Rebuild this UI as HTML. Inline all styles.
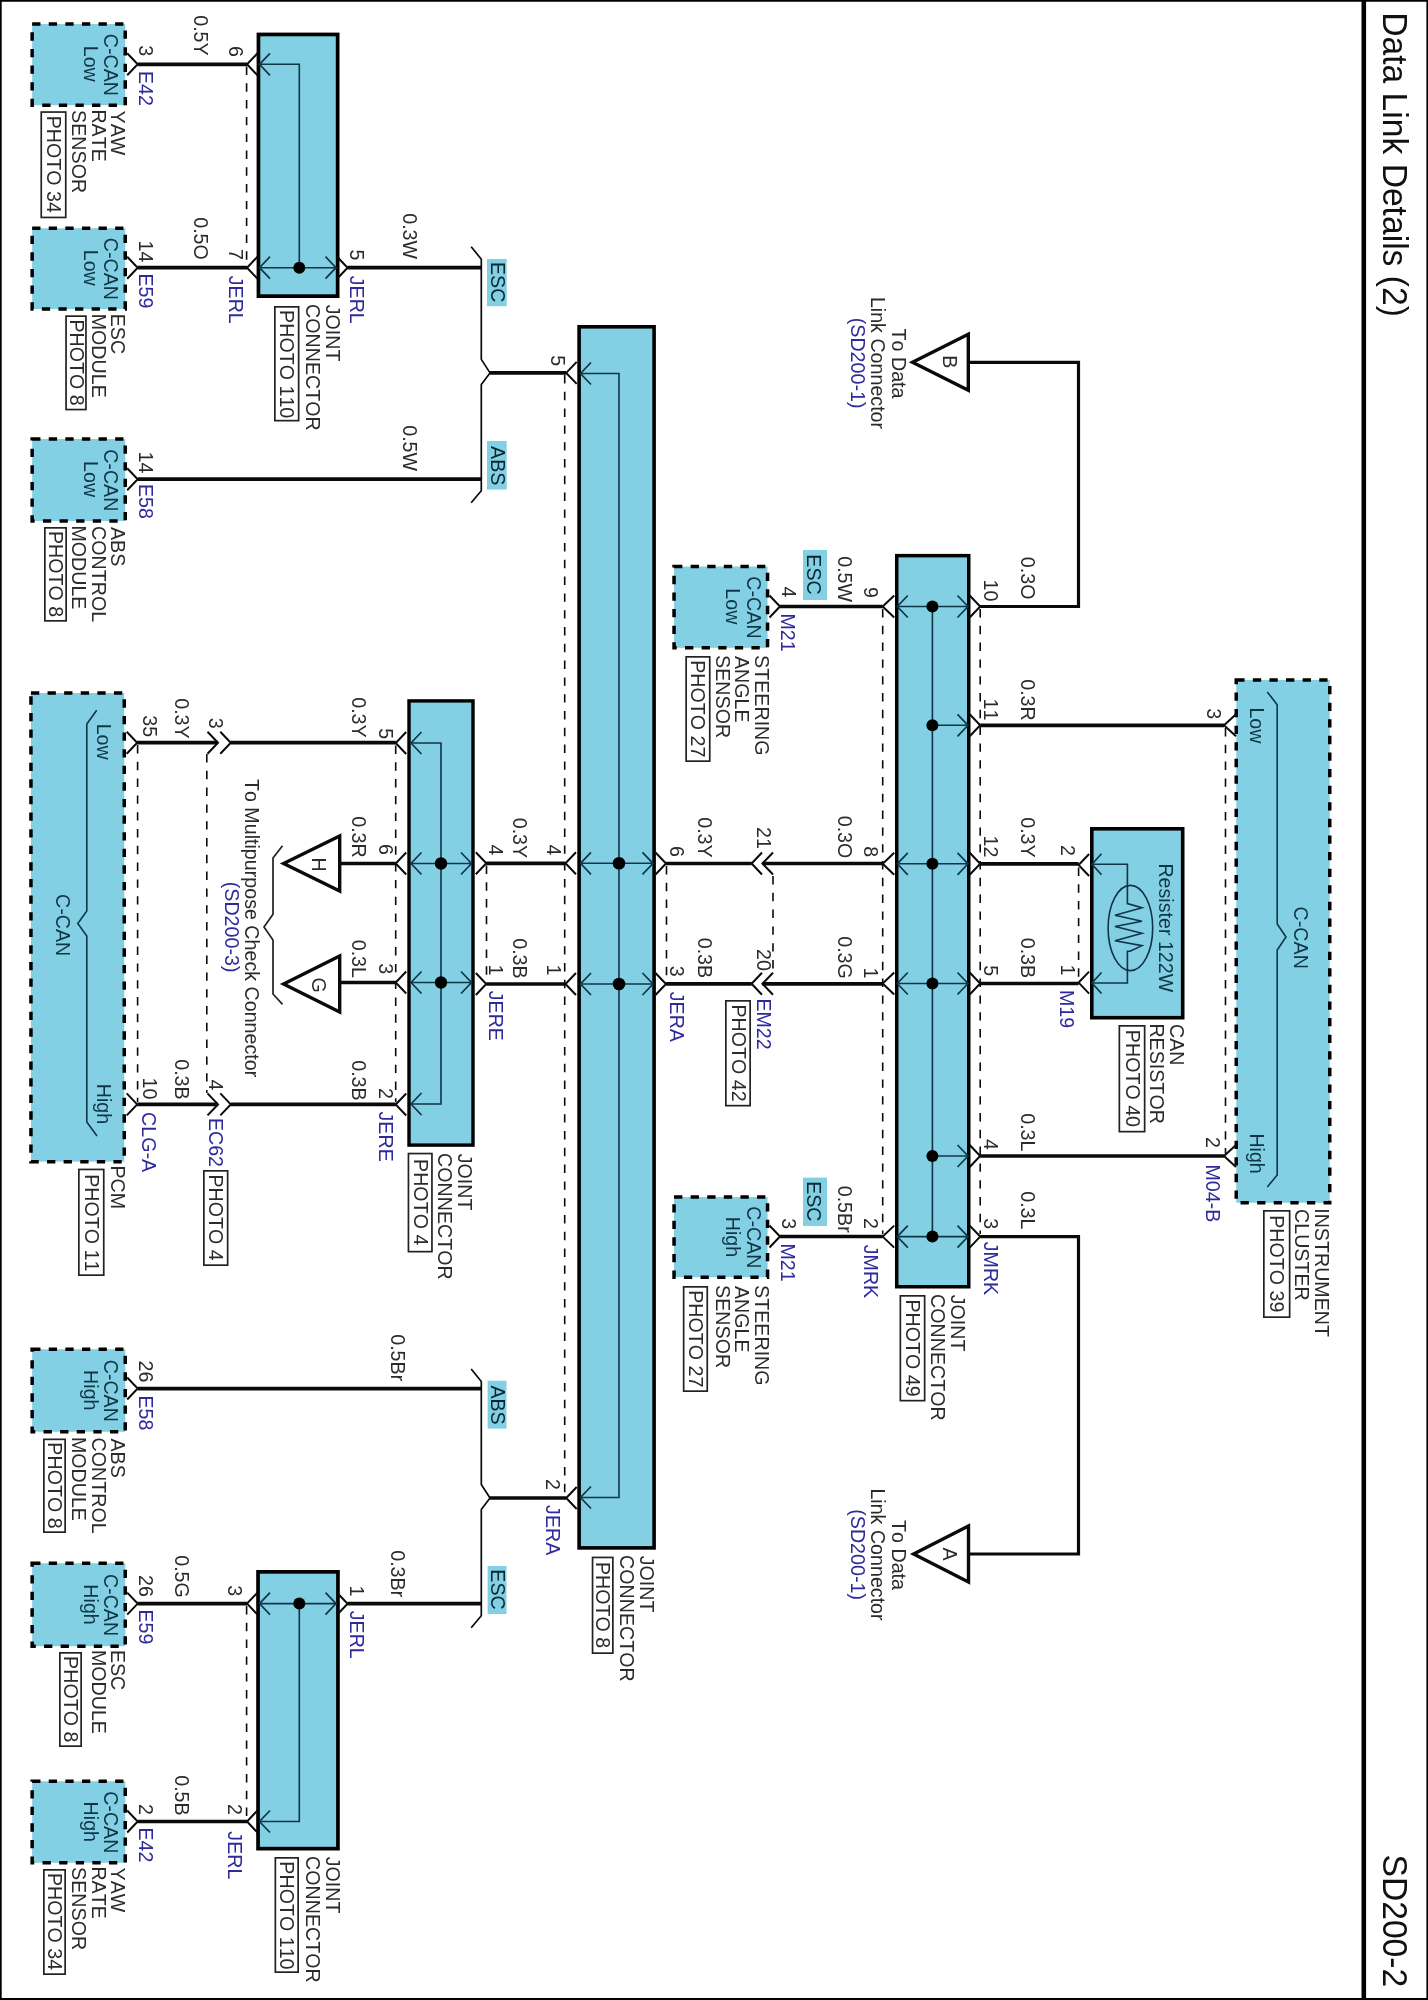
<!DOCTYPE html>
<html><head><meta charset="utf-8"><style>
html,body{margin:0;padding:0;background:#fff;}
svg{display:block;}
text{font-family:"Liberation Sans",sans-serif;font-kerning:none;}
svg{will-change:transform;}
</style></head><body>
<svg width="1428" height="2000" viewBox="0 0 1428 2000" stroke-linecap="butt">
<rect x="0" y="0" width="1428" height="2000" fill="#fff"/>
<line x1="0.00" y1="0.80" x2="1428.00" y2="0.80" stroke="#000" stroke-width="1.80"/>
<line x1="0.80" y1="0.00" x2="0.80" y2="2000.00" stroke="#000" stroke-width="1.80"/>
<line x1="0.00" y1="1999.00" x2="1428.00" y2="1999.00" stroke="#000" stroke-width="2.20"/>
<line x1="1427.20" y1="0.00" x2="1427.20" y2="2000.00" stroke="#000" stroke-width="1.60"/>
<line x1="1363.80" y1="0.00" x2="1363.80" y2="2000.00" stroke="#000" stroke-width="4.60"/>
<text transform="translate(1383.00 12.22) rotate(90) scale(0.975 1)" fill="#111" font-size="34.50">Data Link Details (2)</text>
<text transform="translate(1383.00 1854.49) rotate(90) scale(0.975 1)" fill="#111" font-size="34.50">SD200-2</text>
<rect x="32.15" y="24.05" width="93.10" height="81.20" fill="#83cfe3" stroke="#000" stroke-width="3.50" stroke-dasharray="8.3 8.3"/>
<text transform="translate(104.00 33.81) rotate(90) scale(0.937 1)" fill="#0f3646" font-size="21.00">C-CAN</text>
<text transform="translate(84.00 45.76) rotate(90) scale(0.937 1)" fill="#0f3646" font-size="21.00">Low</text>
<path d="M127.20 53.30L137.70 64.30L127.20 75.30" stroke="#0a0a0a" stroke-width="2.00" fill="none" />
<text transform="translate(111.30 110.56) rotate(90) scale(0.937 1)" fill="#2b2b2b" font-size="21.00">YAW</text>
<text transform="translate(91.70 109.38) rotate(90) scale(0.937 1)" fill="#2b2b2b" font-size="21.00">RATE</text>
<text transform="translate(72.10 110.11) rotate(90) scale(0.937 1)" fill="#2b2b2b" font-size="21.00">SENSOR</text>
<rect x="41.25" y="112.05" width="24.50" height="105.40" fill="none" stroke="#222" stroke-width="1.7"/>
<text transform="translate(47.00 115.73) rotate(90) scale(0.937 1)" fill="#2b2b2b" font-size="21.00">PHOTO 34</text>
<text transform="translate(139.00 45.26) rotate(90) scale(0.937 1)" fill="#2b2b2b" font-size="21.00">3</text>
<text transform="translate(139.00 70.88) rotate(90) scale(0.937 1)" fill="#2e2a9c" font-size="21.00">E42</text>
<line x1="137.70" y1="64.30" x2="247.00" y2="64.30" stroke="#0a0a0a" stroke-width="3.70"/>
<text transform="translate(193.50 15.21) rotate(90) scale(0.937 1)" fill="#2b2b2b" font-size="21.00">0.5Y</text>
<rect x="32.15" y="228.25" width="93.10" height="80.80" fill="#83cfe3" stroke="#000" stroke-width="3.50" stroke-dasharray="8.3 8.3"/>
<text transform="translate(104.00 237.81) rotate(90) scale(0.937 1)" fill="#0f3646" font-size="21.00">C-CAN</text>
<text transform="translate(84.00 249.76) rotate(90) scale(0.937 1)" fill="#0f3646" font-size="21.00">Low</text>
<path d="M127.20 256.70L137.70 267.70L127.20 278.70" stroke="#0a0a0a" stroke-width="2.00" fill="none" />
<text transform="translate(111.30 313.68) rotate(90) scale(0.937 1)" fill="#2b2b2b" font-size="21.00">ESC</text>
<text transform="translate(91.70 313.68) rotate(90) scale(0.937 1)" fill="#2b2b2b" font-size="21.00">MODULE</text>
<rect x="66.05" y="316.15" width="19.90" height="93.40" fill="none" stroke="#222" stroke-width="1.7"/>
<text transform="translate(69.50 319.46) rotate(90) scale(0.937 1)" fill="#2b2b2b" font-size="21.00">PHOTO 8</text>
<text transform="translate(139.00 240.52) rotate(90) scale(0.937 1)" fill="#2b2b2b" font-size="21.00">14</text>
<text transform="translate(139.00 273.38) rotate(90) scale(0.937 1)" fill="#2e2a9c" font-size="21.00">E59</text>
<line x1="137.70" y1="267.70" x2="247.00" y2="267.70" stroke="#0a0a0a" stroke-width="3.70"/>
<text transform="translate(193.50 217.21) rotate(90) scale(0.937 1)" fill="#2b2b2b" font-size="21.00">0.5O</text>
<rect x="32.15" y="439.05" width="93.10" height="81.90" fill="#83cfe3" stroke="#000" stroke-width="3.50" stroke-dasharray="8.3 8.3"/>
<text transform="translate(104.00 449.16) rotate(90) scale(0.937 1)" fill="#0f3646" font-size="21.00">C-CAN</text>
<text transform="translate(84.00 461.11) rotate(90) scale(0.937 1)" fill="#0f3646" font-size="21.00">Low</text>
<path d="M127.20 468.20L137.70 479.20L127.20 490.20" stroke="#0a0a0a" stroke-width="2.00" fill="none" />
<text transform="translate(111.30 526.95) rotate(90) scale(0.937 1)" fill="#2b2b2b" font-size="21.00">ABS</text>
<text transform="translate(91.70 526.02) rotate(90) scale(0.937 1)" fill="#2b2b2b" font-size="21.00">CONTROL</text>
<text transform="translate(72.10 525.38) rotate(90) scale(0.937 1)" fill="#2b2b2b" font-size="21.00">MODULE</text>
<rect x="44.85" y="527.85" width="21.30" height="93.00" fill="none" stroke="#222" stroke-width="1.7"/>
<text transform="translate(49.00 530.96) rotate(90) scale(0.937 1)" fill="#2b2b2b" font-size="21.00">PHOTO 8</text>
<text transform="translate(139.00 451.52) rotate(90) scale(0.937 1)" fill="#2b2b2b" font-size="21.00">14</text>
<text transform="translate(139.00 483.88) rotate(90) scale(0.937 1)" fill="#2e2a9c" font-size="21.00">E58</text>
<line x1="137.70" y1="479.20" x2="481.30" y2="479.20" stroke="#0a0a0a" stroke-width="3.70"/>
<text transform="translate(403.00 425.21) rotate(90) scale(0.937 1)" fill="#2b2b2b" font-size="21.00">0.5W</text>
<rect x="32.15" y="1349.25" width="93.10" height="82.50" fill="#83cfe3" stroke="#000" stroke-width="3.50" stroke-dasharray="8.3 8.3"/>
<text transform="translate(104.00 1359.66) rotate(90) scale(0.937 1)" fill="#0f3646" font-size="21.00">C-CAN</text>
<text transform="translate(84.00 1370.11) rotate(90) scale(0.937 1)" fill="#0f3646" font-size="21.00">High</text>
<path d="M127.20 1377.50L137.70 1388.50L127.20 1399.50" stroke="#0a0a0a" stroke-width="2.00" fill="none" />
<text transform="translate(111.30 1438.45) rotate(90) scale(0.937 1)" fill="#2b2b2b" font-size="21.00">ABS</text>
<text transform="translate(91.70 1437.52) rotate(90) scale(0.937 1)" fill="#2b2b2b" font-size="21.00">CONTROL</text>
<text transform="translate(72.10 1436.88) rotate(90) scale(0.937 1)" fill="#2b2b2b" font-size="21.00">MODULE</text>
<rect x="43.85" y="1439.35" width="21.30" height="92.80" fill="none" stroke="#222" stroke-width="1.7"/>
<text transform="translate(48.00 1442.36) rotate(90) scale(0.937 1)" fill="#2b2b2b" font-size="21.00">PHOTO 8</text>
<text transform="translate(139.00 1360.62) rotate(90) scale(0.937 1)" fill="#2b2b2b" font-size="21.00">26</text>
<text transform="translate(139.00 1395.38) rotate(90) scale(0.937 1)" fill="#2e2a9c" font-size="21.00">E58</text>
<line x1="137.70" y1="1388.60" x2="481.30" y2="1388.60" stroke="#0a0a0a" stroke-width="3.70"/>
<text transform="translate(390.60 1334.21) rotate(90) scale(0.937 1)" fill="#2b2b2b" font-size="21.00">0.5Br</text>
<rect x="32.15" y="1563.25" width="93.10" height="83.00" fill="#83cfe3" stroke="#000" stroke-width="3.50" stroke-dasharray="8.3 8.3"/>
<text transform="translate(104.00 1573.91) rotate(90) scale(0.937 1)" fill="#0f3646" font-size="21.00">C-CAN</text>
<text transform="translate(84.00 1584.36) rotate(90) scale(0.937 1)" fill="#0f3646" font-size="21.00">High</text>
<path d="M127.20 1592.60L137.70 1603.60L127.20 1614.60" stroke="#0a0a0a" stroke-width="2.00" fill="none" />
<text transform="translate(111.30 1649.88) rotate(90) scale(0.937 1)" fill="#2b2b2b" font-size="21.00">ESC</text>
<text transform="translate(91.70 1649.88) rotate(90) scale(0.937 1)" fill="#2b2b2b" font-size="21.00">MODULE</text>
<rect x="59.85" y="1652.85" width="21.30" height="93.30" fill="none" stroke="#222" stroke-width="1.7"/>
<text transform="translate(64.00 1656.11) rotate(90) scale(0.937 1)" fill="#2b2b2b" font-size="21.00">PHOTO 8</text>
<text transform="translate(139.00 1575.02) rotate(90) scale(0.937 1)" fill="#2b2b2b" font-size="21.00">26</text>
<text transform="translate(139.00 1609.38) rotate(90) scale(0.937 1)" fill="#2e2a9c" font-size="21.00">E59</text>
<line x1="137.70" y1="1603.60" x2="247.00" y2="1603.60" stroke="#0a0a0a" stroke-width="3.70"/>
<text transform="translate(174.50 1555.21) rotate(90) scale(0.937 1)" fill="#2b2b2b" font-size="21.00">0.5G</text>
<rect x="32.15" y="1781.25" width="93.10" height="81.50" fill="#83cfe3" stroke="#000" stroke-width="3.50" stroke-dasharray="8.3 8.3"/>
<text transform="translate(104.00 1791.16) rotate(90) scale(0.937 1)" fill="#0f3646" font-size="21.00">C-CAN</text>
<text transform="translate(84.00 1801.61) rotate(90) scale(0.937 1)" fill="#0f3646" font-size="21.00">High</text>
<path d="M127.20 1810.50L137.70 1821.50L127.20 1832.50" stroke="#0a0a0a" stroke-width="2.00" fill="none" />
<text transform="translate(111.30 1867.56) rotate(90) scale(0.937 1)" fill="#2b2b2b" font-size="21.00">YAW</text>
<text transform="translate(91.70 1866.38) rotate(90) scale(0.937 1)" fill="#2b2b2b" font-size="21.00">RATE</text>
<text transform="translate(72.10 1867.11) rotate(90) scale(0.937 1)" fill="#2b2b2b" font-size="21.00">SENSOR</text>
<rect x="43.85" y="1869.85" width="21.30" height="104.30" fill="none" stroke="#222" stroke-width="1.7"/>
<text transform="translate(48.00 1872.98) rotate(90) scale(0.937 1)" fill="#2b2b2b" font-size="21.00">PHOTO 34</text>
<text transform="translate(139.00 1804.02) rotate(90) scale(0.937 1)" fill="#2b2b2b" font-size="21.00">2</text>
<text transform="translate(139.00 1827.38) rotate(90) scale(0.937 1)" fill="#2e2a9c" font-size="21.00">E42</text>
<line x1="137.70" y1="1821.50" x2="247.00" y2="1821.50" stroke="#0a0a0a" stroke-width="3.70"/>
<text transform="translate(174.50 1775.21) rotate(90) scale(0.937 1)" fill="#2b2b2b" font-size="21.00">0.5B</text>
<rect x="258.45" y="34.45" width="79.20" height="261.70" fill="#83cfe3" stroke="#000" stroke-width="3.70"/>
<line x1="246.60" y1="66.50" x2="246.60" y2="265.00" stroke="#0a0a0a" stroke-width="1.60" stroke-dasharray="8.4 8.4"/>
<path d="M257.50 53.30L247.00 64.30L257.50 75.30" stroke="#0a0a0a" stroke-width="2.00" fill="none" />
<path d="M257.50 256.70L247.00 267.70L257.50 278.70" stroke="#0a0a0a" stroke-width="2.00" fill="none" />
<path d="M337.10 256.70L347.60 267.70L337.10 278.70" stroke="#0a0a0a" stroke-width="2.00" fill="none" />
<path d="M260 64.3L299.3 64.3L299.3 267.7" stroke="#0f3646" stroke-width="1.60" fill="none" />
<line x1="259.00" y1="267.70" x2="337.00" y2="267.70" stroke="#0f3646" stroke-width="1.60"/>
<path d="M270.00 53.30L259.50 64.30L270.00 75.30" stroke="#0f3646" stroke-width="1.70" fill="none" />
<path d="M270.00 256.70L259.50 267.70L270.00 278.70" stroke="#0f3646" stroke-width="1.70" fill="none" />
<path d="M325.50 256.70L336.00 267.70L325.50 278.70" stroke="#0f3646" stroke-width="1.70" fill="none" />
<circle cx="299.30" cy="267.70" r="6.00" fill="#000"/>
<text transform="translate(228.50 46.02) rotate(90) scale(0.937 1)" fill="#2b2b2b" font-size="21.00">6</text>
<text transform="translate(228.50 248.97) rotate(90) scale(0.937 1)" fill="#2b2b2b" font-size="21.00">7</text>
<text transform="translate(228.50 275.70) rotate(90) scale(0.937 1)" fill="#2e2a9c" font-size="21.00">JERL</text>
<text transform="translate(350.00 249.51) rotate(90) scale(0.937 1)" fill="#2b2b2b" font-size="21.00">5</text>
<text transform="translate(349.50 275.70) rotate(90) scale(0.937 1)" fill="#2e2a9c" font-size="21.00">JERL</text>
<text transform="translate(325.50 304.70) rotate(90) scale(0.937 1)" fill="#2b2b2b" font-size="21.00">JOINT</text>
<text transform="translate(305.90 304.02) rotate(90) scale(0.937 1)" fill="#2b2b2b" font-size="21.00">CONNECTOR</text>
<rect x="274.85" y="306.85" width="23.80" height="113.80" fill="none" stroke="#222" stroke-width="1.7"/>
<text transform="translate(280.25 310.11) rotate(90) scale(0.937 1)" fill="#2b2b2b" font-size="21.00">PHOTO 110</text>
<line x1="347.60" y1="267.70" x2="481.30" y2="267.70" stroke="#0a0a0a" stroke-width="3.70"/>
<text transform="translate(403.00 213.21) rotate(90) scale(0.937 1)" fill="#2b2b2b" font-size="21.00">0.3W</text>
<rect x="258.05" y="1571.85" width="79.90" height="276.80" fill="#83cfe3" stroke="#000" stroke-width="3.70"/>
<line x1="246.60" y1="1606.00" x2="246.60" y2="1819.00" stroke="#0a0a0a" stroke-width="1.60" stroke-dasharray="8.4 8.4"/>
<path d="M257.50 1592.60L247.00 1603.60L257.50 1614.60" stroke="#0a0a0a" stroke-width="2.00" fill="none" />
<path d="M257.50 1810.50L247.00 1821.50L257.50 1832.50" stroke="#0a0a0a" stroke-width="2.00" fill="none" />
<path d="M337.10 1592.70L347.60 1603.70L337.10 1614.70" stroke="#0a0a0a" stroke-width="2.00" fill="none" />
<line x1="259.00" y1="1603.60" x2="337.00" y2="1603.60" stroke="#0f3646" stroke-width="1.60"/>
<path d="M299.3 1603.6L299.3 1821.5L260 1821.5" stroke="#0f3646" stroke-width="1.60" fill="none" />
<path d="M270.00 1592.60L259.50 1603.60L270.00 1614.60" stroke="#0f3646" stroke-width="1.70" fill="none" />
<path d="M325.50 1592.60L336.00 1603.60L325.50 1614.60" stroke="#0f3646" stroke-width="1.70" fill="none" />
<path d="M270.00 1810.50L259.50 1821.50L270.00 1832.50" stroke="#0f3646" stroke-width="1.70" fill="none" />
<circle cx="299.30" cy="1603.60" r="6.00" fill="#000"/>
<text transform="translate(228.00 1585.26) rotate(90) scale(0.937 1)" fill="#2b2b2b" font-size="21.00">3</text>
<text transform="translate(228.00 1804.02) rotate(90) scale(0.937 1)" fill="#2b2b2b" font-size="21.00">2</text>
<text transform="translate(228.00 1831.30) rotate(90) scale(0.937 1)" fill="#2e2a9c" font-size="21.00">JERL</text>
<text transform="translate(349.50 1585.52) rotate(90) scale(0.937 1)" fill="#2b2b2b" font-size="21.00">1</text>
<text transform="translate(349.50 1610.70) rotate(90) scale(0.937 1)" fill="#2e2a9c" font-size="21.00">JERL</text>
<text transform="translate(325.50 1856.70) rotate(90) scale(0.937 1)" fill="#2b2b2b" font-size="21.00">JOINT</text>
<text transform="translate(305.90 1856.02) rotate(90) scale(0.937 1)" fill="#2b2b2b" font-size="21.00">CONNECTOR</text>
<rect x="275.35" y="1857.85" width="22.80" height="114.30" fill="none" stroke="#222" stroke-width="1.7"/>
<text transform="translate(280.25 1861.36) rotate(90) scale(0.937 1)" fill="#2b2b2b" font-size="21.00">PHOTO 110</text>
<line x1="347.60" y1="1603.70" x2="481.30" y2="1603.70" stroke="#0a0a0a" stroke-width="3.70"/>
<text transform="translate(390.60 1550.21) rotate(90) scale(0.937 1)" fill="#2b2b2b" font-size="21.00">0.3Br</text>
<path d="M471.2 246.70L481.3 259.20L481.3 359.40L490 372.90L481.3 384.40L481.3 490.70L471.2 502.70" stroke="#0a0a0a" stroke-width="1.70" fill="none" stroke-linejoin="round"/>
<path d="M471.2 1369.00L481.3 1381.50L481.3 1484.50L490 1498.00L481.3 1509.50L481.3 1615.70L471.2 1627.70" stroke="#0a0a0a" stroke-width="1.70" fill="none" stroke-linejoin="round"/>
<rect x="487.00" y="259.00" width="19.70" height="47.20" fill="#83cfe3"/>
<text transform="translate(490.80 261.94) rotate(90) scale(0.937 1)" fill="#0a2633" font-size="21.00">ESC</text>
<rect x="487.00" y="441.00" width="19.70" height="48.60" fill="#83cfe3"/>
<text transform="translate(490.80 446.04) rotate(90) scale(0.937 1)" fill="#0a2633" font-size="21.00">ABS</text>
<rect x="487.60" y="1380.70" width="18.90" height="47.90" fill="#83cfe3"/>
<text transform="translate(491.40 1385.39) rotate(90) scale(0.937 1)" fill="#0a2633" font-size="21.00">ABS</text>
<rect x="487.60" y="1566.00" width="18.90" height="48.00" fill="#83cfe3"/>
<text transform="translate(491.40 1569.34) rotate(90) scale(0.937 1)" fill="#0a2633" font-size="21.00">ESC</text>
<line x1="490.00" y1="372.90" x2="566.20" y2="372.90" stroke="#0a0a0a" stroke-width="3.70"/>
<line x1="490.00" y1="1498.00" x2="566.20" y2="1498.00" stroke="#0a0a0a" stroke-width="3.70"/>
<rect x="579.10" y="326.80" width="75.00" height="1221.10" fill="#83cfe3" stroke="#000" stroke-width="3.60"/>
<line x1="564.70" y1="375.00" x2="564.70" y2="1496.00" stroke="#0a0a0a" stroke-width="1.60" stroke-dasharray="8.4 8.4"/>
<path d="M576.70 361.90L566.20 372.90L576.70 383.90" stroke="#0a0a0a" stroke-width="2.00" fill="none" />
<path d="M576.00 852.30L565.50 863.30L576.00 874.30" stroke="#0a0a0a" stroke-width="2.00" fill="none" />
<path d="M576.00 973.00L565.50 984.00L576.00 995.00" stroke="#0a0a0a" stroke-width="2.00" fill="none" />
<path d="M576.70 1487.00L566.20 1498.00L576.70 1509.00" stroke="#0a0a0a" stroke-width="2.00" fill="none" />
<path d="M655.50 852.50L666.00 863.50L655.50 874.50" stroke="#0a0a0a" stroke-width="2.00" fill="none" />
<path d="M655.50 973.00L666.00 984.00L655.50 995.00" stroke="#0a0a0a" stroke-width="2.00" fill="none" />
<line x1="666.50" y1="866.00" x2="666.50" y2="981.00" stroke="#0a0a0a" stroke-width="1.60" stroke-dasharray="8.4 8.4"/>
<path d="M581 373.5L619 373.5L619 1497.5L581 1497.5" stroke="#0f3646" stroke-width="1.60" fill="none" />
<line x1="580.00" y1="863.30" x2="653.00" y2="863.30" stroke="#0f3646" stroke-width="1.60"/>
<line x1="580.00" y1="984.00" x2="653.00" y2="984.00" stroke="#0f3646" stroke-width="1.60"/>
<path d="M591.00 362.50L580.50 373.50L591.00 384.50" stroke="#0f3646" stroke-width="1.70" fill="none" />
<path d="M591.00 1486.50L580.50 1497.50L591.00 1508.50" stroke="#0f3646" stroke-width="1.70" fill="none" />
<path d="M591.00 852.30L580.50 863.30L591.00 874.30" stroke="#0f3646" stroke-width="1.70" fill="none" />
<path d="M642.50 852.30L653.00 863.30L642.50 874.30" stroke="#0f3646" stroke-width="1.70" fill="none" />
<path d="M591.00 973.00L580.50 984.00L591.00 995.00" stroke="#0f3646" stroke-width="1.70" fill="none" />
<path d="M642.50 973.00L653.00 984.00L642.50 995.00" stroke="#0f3646" stroke-width="1.70" fill="none" />
<circle cx="619.00" cy="863.30" r="6.30" fill="#000"/>
<circle cx="619.00" cy="984.00" r="6.30" fill="#000"/>
<text transform="translate(551.00 355.21) rotate(90) scale(0.937 1)" fill="#2b2b2b" font-size="21.00">5</text>
<text transform="translate(546.60 844.56) rotate(90) scale(0.937 1)" fill="#2b2b2b" font-size="21.00">4</text>
<text transform="translate(546.60 964.52) rotate(90) scale(0.937 1)" fill="#2b2b2b" font-size="21.00">1</text>
<text transform="translate(545.60 1479.02) rotate(90) scale(0.937 1)" fill="#2b2b2b" font-size="21.00">2</text>
<text transform="translate(545.60 1505.10) rotate(90) scale(0.937 1)" fill="#2e2a9c" font-size="21.00">JERA</text>
<text transform="translate(670.00 846.02) rotate(90) scale(0.937 1)" fill="#2b2b2b" font-size="21.00">6</text>
<text transform="translate(670.00 965.76) rotate(90) scale(0.937 1)" fill="#2b2b2b" font-size="21.00">3</text>
<text transform="translate(669.50 991.70) rotate(90) scale(0.937 1)" fill="#2e2a9c" font-size="21.00">JERA</text>
<text transform="translate(640.00 1555.70) rotate(90) scale(0.937 1)" fill="#2b2b2b" font-size="21.00">JOINT</text>
<text transform="translate(620.40 1555.02) rotate(90) scale(0.937 1)" fill="#2b2b2b" font-size="21.00">CONNECTOR</text>
<rect x="592.55" y="1557.45" width="20.30" height="95.70" fill="none" stroke="#222" stroke-width="1.7"/>
<text transform="translate(596.20 1561.91) rotate(90) scale(0.937 1)" fill="#2b2b2b" font-size="21.00">PHOTO 8</text>
<rect x="409.00" y="700.90" width="64.00" height="444.20" fill="#83cfe3" stroke="#000" stroke-width="3.40"/>
<path d="M406.20 732.00L395.70 743.00L406.20 754.00" stroke="#0a0a0a" stroke-width="2.00" fill="none" />
<path d="M406.20 852.50L395.70 863.50L406.20 874.50" stroke="#0a0a0a" stroke-width="2.00" fill="none" />
<path d="M406.20 971.50L395.70 982.50L406.20 993.50" stroke="#0a0a0a" stroke-width="2.00" fill="none" />
<path d="M406.20 1093.50L395.70 1104.50L406.20 1115.50" stroke="#0a0a0a" stroke-width="2.00" fill="none" />
<path d="M475.80 852.30L486.30 863.30L475.80 874.30" stroke="#0a0a0a" stroke-width="2.00" fill="none" />
<path d="M475.80 973.00L486.30 984.00L475.80 995.00" stroke="#0a0a0a" stroke-width="2.00" fill="none" />
<line x1="395.70" y1="745.50" x2="395.70" y2="1102.00" stroke="#0a0a0a" stroke-width="1.60" stroke-dasharray="8.4 8.4"/>
<line x1="486.50" y1="865.50" x2="486.50" y2="981.50" stroke="#0a0a0a" stroke-width="1.60" stroke-dasharray="8.4 8.4"/>
<path d="M411 743L441 743L441 1104L411 1104" stroke="#0f3646" stroke-width="1.60" fill="none" />
<line x1="411.00" y1="863.50" x2="472.00" y2="863.50" stroke="#0f3646" stroke-width="1.60"/>
<line x1="411.00" y1="982.50" x2="472.00" y2="982.50" stroke="#0f3646" stroke-width="1.60"/>
<path d="M421.50 732.00L411.00 743.00L421.50 754.00" stroke="#0f3646" stroke-width="1.70" fill="none" />
<path d="M421.50 1093.00L411.00 1104.00L421.50 1115.00" stroke="#0f3646" stroke-width="1.70" fill="none" />
<path d="M421.50 852.50L411.00 863.50L421.50 874.50" stroke="#0f3646" stroke-width="1.70" fill="none" />
<path d="M461.00 852.50L471.50 863.50L461.00 874.50" stroke="#0f3646" stroke-width="1.70" fill="none" />
<path d="M421.50 971.50L411.00 982.50L421.50 993.50" stroke="#0f3646" stroke-width="1.70" fill="none" />
<path d="M461.00 971.50L471.50 982.50L461.00 993.50" stroke="#0f3646" stroke-width="1.70" fill="none" />
<circle cx="441.00" cy="863.50" r="6.20" fill="#000"/>
<circle cx="441.00" cy="982.50" r="6.20" fill="#000"/>
<text transform="translate(379.00 728.21) rotate(90) scale(0.937 1)" fill="#2b2b2b" font-size="21.00">5</text>
<text transform="translate(351.50 697.21) rotate(90) scale(0.937 1)" fill="#2b2b2b" font-size="21.00">0.3Y</text>
<text transform="translate(379.00 844.02) rotate(90) scale(0.937 1)" fill="#2b2b2b" font-size="21.00">6</text>
<text transform="translate(351.50 816.21) rotate(90) scale(0.937 1)" fill="#2b2b2b" font-size="21.00">0.3R</text>
<text transform="translate(379.00 963.26) rotate(90) scale(0.937 1)" fill="#2b2b2b" font-size="21.00">3</text>
<text transform="translate(351.50 939.71) rotate(90) scale(0.937 1)" fill="#2b2b2b" font-size="21.00">0.3L</text>
<text transform="translate(379.00 1088.02) rotate(90) scale(0.937 1)" fill="#2b2b2b" font-size="21.00">2</text>
<text transform="translate(351.50 1060.21) rotate(90) scale(0.937 1)" fill="#2b2b2b" font-size="21.00">0.3B</text>
<text transform="translate(379.00 1111.50) rotate(90) scale(0.937 1)" fill="#2e2a9c" font-size="21.00">JERE</text>
<text transform="translate(489.40 844.56) rotate(90) scale(0.937 1)" fill="#2b2b2b" font-size="21.00">4</text>
<text transform="translate(513.00 817.71) rotate(90) scale(0.937 1)" fill="#2b2b2b" font-size="21.00">0.3Y</text>
<text transform="translate(489.40 964.52) rotate(90) scale(0.937 1)" fill="#2b2b2b" font-size="21.00">1</text>
<text transform="translate(513.00 938.21) rotate(90) scale(0.937 1)" fill="#2b2b2b" font-size="21.00">0.3B</text>
<text transform="translate(488.50 990.70) rotate(90) scale(0.937 1)" fill="#2e2a9c" font-size="21.00">JERE</text>
<line x1="486.30" y1="863.30" x2="565.50" y2="863.30" stroke="#0a0a0a" stroke-width="3.70"/>
<line x1="486.30" y1="984.00" x2="565.50" y2="984.00" stroke="#0a0a0a" stroke-width="3.70"/>
<line x1="340.00" y1="863.50" x2="395.70" y2="863.50" stroke="#0a0a0a" stroke-width="3.70"/>
<line x1="340.00" y1="982.50" x2="395.70" y2="982.50" stroke="#0a0a0a" stroke-width="3.70"/>
<text transform="translate(457.50 1153.70) rotate(90) scale(0.937 1)" fill="#2b2b2b" font-size="21.00">JOINT</text>
<text transform="translate(437.90 1153.02) rotate(90) scale(0.937 1)" fill="#2b2b2b" font-size="21.00">CONNECTOR</text>
<rect x="408.45" y="1153.55" width="23.50" height="98.10" fill="none" stroke="#222" stroke-width="1.7"/>
<text transform="translate(413.70 1159.06) rotate(90) scale(0.937 1)" fill="#2b2b2b" font-size="21.00">PHOTO 4</text>
<path d="M283.60 863.50L339.70 836.00L339.70 891.00Z" stroke="#0a0a0a" stroke-width="3.40" fill="#fff" stroke-linejoin="miter"/>
<path d="M283.60 984.00L339.70 956.00L339.70 1012.00Z" stroke="#0a0a0a" stroke-width="3.40" fill="#fff" stroke-linejoin="miter"/>
<text transform="translate(311.60 857.39) rotate(90) scale(0.937 1)" fill="#2b2b2b" font-size="21.00">H</text>
<text transform="translate(311.60 977.60) rotate(90) scale(0.937 1)" fill="#2b2b2b" font-size="21.00">G</text>
<path d="M282.5 845.8L273 858L273 914.3L264 926.9L273 940L273 994L282.5 1004.4" stroke="#222" stroke-width="1.70" fill="none" stroke-linejoin="miter"/>
<text transform="translate(245.00 778.96) rotate(90) scale(0.937 1)" fill="#2b2b2b" font-size="21.00">To Multipurpose Check Connector</text>
<text transform="translate(225.00 881.77) rotate(90) scale(0.937 1)" fill="#2e2a9c" font-size="21.00">(SD200-3)</text>
<rect x="30.95" y="693.05" width="93.30" height="468.60" fill="#83cfe3" stroke="#000" stroke-width="3.50" stroke-dasharray="8.3 8.3"/>
<path d="M96.7 710.2L86.8 724L86.8 911L77.8 923.5L86.8 936L86.8 1122L97 1136" stroke="#0f3646" stroke-width="1.60" fill="none" stroke-linejoin="miter"/>
<text transform="translate(97.30 723.68) rotate(90) scale(0.937 1)" fill="#0f3646" font-size="21.00">Low</text>
<text transform="translate(97.30 1083.78) rotate(90) scale(0.937 1)" fill="#0f3646" font-size="21.00">High</text>
<text transform="translate(56.00 894.02) rotate(90) scale(0.937 1)" fill="#0f3646" font-size="21.00">C-CAN</text>
<path d="M126.70 731.70L137.20 742.70L126.70 753.70" stroke="#0a0a0a" stroke-width="2.00" fill="none" />
<path d="M126.70 1093.40L137.20 1104.40L126.70 1115.40" stroke="#0a0a0a" stroke-width="2.00" fill="none" />
<line x1="137.60" y1="745.00" x2="137.60" y2="1102.00" stroke="#0a0a0a" stroke-width="1.60" stroke-dasharray="8.4 8.4"/>
<text transform="translate(142.50 715.26) rotate(90) scale(0.937 1)" fill="#2b2b2b" font-size="21.00">35</text>
<text transform="translate(175.00 698.21) rotate(90) scale(0.937 1)" fill="#2b2b2b" font-size="21.00">0.3Y</text>
<text transform="translate(209.00 717.86) rotate(90) scale(0.937 1)" fill="#2b2b2b" font-size="21.00">3</text>
<text transform="translate(142.50 1077.52) rotate(90) scale(0.937 1)" fill="#2b2b2b" font-size="21.00">10</text>
<text transform="translate(142.40 1112.02) rotate(90) scale(0.937 1)" fill="#2e2a9c" font-size="21.00">CLG-A</text>
<text transform="translate(175.00 1059.21) rotate(90) scale(0.937 1)" fill="#2b2b2b" font-size="21.00">0.3B</text>
<text transform="translate(209.00 1079.56) rotate(90) scale(0.937 1)" fill="#2b2b2b" font-size="21.00">4</text>
<text transform="translate(208.50 1117.88) rotate(90) scale(0.937 1)" fill="#2e2a9c" font-size="21.00">EC62</text>
<rect x="203.85" y="1170.85" width="23.80" height="94.30" fill="none" stroke="#222" stroke-width="1.7"/>
<text transform="translate(209.25 1174.46) rotate(90) scale(0.937 1)" fill="#2b2b2b" font-size="21.00">PHOTO 4</text>
<text transform="translate(111.30 1165.38) rotate(90) scale(0.937 1)" fill="#2b2b2b" font-size="21.00">PCM</text>
<rect x="78.85" y="1169.45" width="24.90" height="105.70" fill="none" stroke="#222" stroke-width="1.7"/>
<text transform="translate(84.80 1174.21) rotate(90) scale(0.937 1)" fill="#2b2b2b" font-size="21.00">PHOTO 11</text>
<line x1="137.20" y1="742.70" x2="218.00" y2="742.70" stroke="#0a0a0a" stroke-width="3.70"/>
<path d="M207.50 731.70L218.00 742.70L207.50 753.70" stroke="#0a0a0a" stroke-width="2.00" fill="none" />
<path d="M220.30 731.70L230.80 742.70L220.30 753.70" stroke="#0a0a0a" stroke-width="2.00" fill="none" />
<line x1="230.80" y1="742.70" x2="395.70" y2="742.70" stroke="#0a0a0a" stroke-width="3.70"/>
<line x1="137.20" y1="1104.40" x2="218.00" y2="1104.40" stroke="#0a0a0a" stroke-width="3.70"/>
<path d="M207.50 1093.40L218.00 1104.40L207.50 1115.40" stroke="#0a0a0a" stroke-width="2.00" fill="none" />
<path d="M220.30 1093.40L230.80 1104.40L220.30 1115.40" stroke="#0a0a0a" stroke-width="2.00" fill="none" />
<line x1="230.80" y1="1104.40" x2="395.70" y2="1104.40" stroke="#0a0a0a" stroke-width="3.70"/>
<line x1="206.80" y1="754.00" x2="206.80" y2="1093.00" stroke="#0a0a0a" stroke-width="1.60" stroke-dasharray="8.4 8.4"/>
<line x1="666.00" y1="863.50" x2="751.60" y2="863.50" stroke="#0a0a0a" stroke-width="3.70"/>
<path d="M762.00 852.50L751.60 863.50L762.00 874.50" stroke="#0a0a0a" stroke-width="2.00" fill="none" />
<path d="M773.00 852.50L762.40 863.50L773.00 874.50" stroke="#0a0a0a" stroke-width="2.00" fill="none" />
<line x1="762.40" y1="863.50" x2="882.70" y2="863.50" stroke="#0a0a0a" stroke-width="3.70"/>
<line x1="666.00" y1="983.80" x2="751.60" y2="983.80" stroke="#0a0a0a" stroke-width="3.70"/>
<path d="M762.00 972.80L751.60 983.80L762.00 994.80" stroke="#0a0a0a" stroke-width="2.00" fill="none" />
<path d="M773.00 972.80L762.40 983.80L773.00 994.80" stroke="#0a0a0a" stroke-width="2.00" fill="none" />
<line x1="762.40" y1="983.80" x2="882.70" y2="983.80" stroke="#0a0a0a" stroke-width="3.70"/>
<line x1="773.00" y1="876.00" x2="773.00" y2="972.00" stroke="#0a0a0a" stroke-width="1.60" stroke-dasharray="8.4 8.4"/>
<text transform="translate(697.50 817.21) rotate(90) scale(0.937 1)" fill="#2b2b2b" font-size="21.00">0.3Y</text>
<text transform="translate(697.50 937.71) rotate(90) scale(0.937 1)" fill="#2b2b2b" font-size="21.00">0.3B</text>
<text transform="translate(756.50 827.02) rotate(90) scale(0.937 1)" fill="#2b2b2b" font-size="21.00">21</text>
<text transform="translate(756.50 949.02) rotate(90) scale(0.937 1)" fill="#2b2b2b" font-size="21.00">20</text>
<text transform="translate(756.50 998.38) rotate(90) scale(0.937 1)" fill="#2e2a9c" font-size="21.00">EM22</text>
<rect x="725.85" y="1000.85" width="24.30" height="104.80" fill="none" stroke="#222" stroke-width="1.7"/>
<text transform="translate(731.50 1004.45) rotate(90) scale(0.937 1)" fill="#2b2b2b" font-size="21.00">PHOTO 42</text>
<text transform="translate(837.50 815.71) rotate(90) scale(0.937 1)" fill="#2b2b2b" font-size="21.00">0.3O</text>
<text transform="translate(863.50 846.16) rotate(90) scale(0.937 1)" fill="#2b2b2b" font-size="21.00">8</text>
<text transform="translate(837.50 936.21) rotate(90) scale(0.937 1)" fill="#2b2b2b" font-size="21.00">0.3G</text>
<text transform="translate(863.50 967.52) rotate(90) scale(0.937 1)" fill="#2b2b2b" font-size="21.00">1</text>
<rect x="674.05" y="566.55" width="93.50" height="81.30" fill="#83cfe3" stroke="#000" stroke-width="3.50" stroke-dasharray="8.3 8.3"/>
<text transform="translate(746.50 576.36) rotate(90) scale(0.937 1)" fill="#0f3646" font-size="21.00">C-CAN</text>
<text transform="translate(726.00 588.31) rotate(90) scale(0.937 1)" fill="#0f3646" font-size="21.00">Low</text>
<path d="M769.50 595.50L780.00 606.50L769.50 617.50" stroke="#0a0a0a" stroke-width="2.00" fill="none" />
<text transform="translate(781.50 586.56) rotate(90) scale(0.937 1)" fill="#2b2b2b" font-size="21.00">4</text>
<text transform="translate(780.50 613.38) rotate(90) scale(0.937 1)" fill="#2e2a9c" font-size="21.00">M21</text>
<line x1="780.00" y1="606.50" x2="882.70" y2="606.50" stroke="#0a0a0a" stroke-width="3.70"/>
<text transform="translate(754.70 655.11) rotate(90) scale(0.937 1)" fill="#2b2b2b" font-size="21.00">STEERING</text>
<text transform="translate(735.10 655.95) rotate(90) scale(0.937 1)" fill="#2b2b2b" font-size="21.00">ANGLE</text>
<text transform="translate(715.50 655.11) rotate(90) scale(0.937 1)" fill="#2b2b2b" font-size="21.00">SENSOR</text>
<rect x="686.15" y="656.85" width="23.60" height="104.30" fill="none" stroke="#222" stroke-width="1.7"/>
<text transform="translate(691.45 660.20) rotate(90) scale(0.937 1)" fill="#2b2b2b" font-size="21.00">PHOTO 27</text>
<rect x="674.05" y="1197.05" width="93.50" height="80.20" fill="#83cfe3" stroke="#000" stroke-width="3.50" stroke-dasharray="8.3 8.3"/>
<text transform="translate(746.50 1206.31) rotate(90) scale(0.937 1)" fill="#0f3646" font-size="21.00">C-CAN</text>
<text transform="translate(726.00 1216.76) rotate(90) scale(0.937 1)" fill="#0f3646" font-size="21.00">High</text>
<path d="M769.50 1225.50L780.00 1236.50L769.50 1247.50" stroke="#0a0a0a" stroke-width="2.00" fill="none" />
<text transform="translate(781.50 1218.26) rotate(90) scale(0.937 1)" fill="#2b2b2b" font-size="21.00">3</text>
<text transform="translate(780.50 1243.38) rotate(90) scale(0.937 1)" fill="#2e2a9c" font-size="21.00">M21</text>
<line x1="780.00" y1="1236.50" x2="882.70" y2="1236.50" stroke="#0a0a0a" stroke-width="3.70"/>
<text transform="translate(754.70 1285.11) rotate(90) scale(0.937 1)" fill="#2b2b2b" font-size="21.00">STEERING</text>
<text transform="translate(735.10 1285.95) rotate(90) scale(0.937 1)" fill="#2b2b2b" font-size="21.00">ANGLE</text>
<text transform="translate(715.50 1285.11) rotate(90) scale(0.937 1)" fill="#2b2b2b" font-size="21.00">SENSOR</text>
<rect x="683.65" y="1286.85" width="23.60" height="104.30" fill="none" stroke="#222" stroke-width="1.7"/>
<text transform="translate(688.95 1290.20) rotate(90) scale(0.937 1)" fill="#2b2b2b" font-size="21.00">PHOTO 27</text>
<rect x="803.00" y="550.00" width="24.00" height="50.00" fill="#83cfe3"/>
<text transform="translate(806.80 554.34) rotate(90) scale(0.937 1)" fill="#0a2633" font-size="21.00">ESC</text>
<rect x="803.00" y="1177.60" width="24.00" height="48.40" fill="#83cfe3"/>
<text transform="translate(806.80 1181.14) rotate(90) scale(0.937 1)" fill="#0a2633" font-size="21.00">ESC</text>
<text transform="translate(837.50 556.21) rotate(90) scale(0.937 1)" fill="#2b2b2b" font-size="21.00">0.5W</text>
<text transform="translate(864.00 587.07) rotate(90) scale(0.937 1)" fill="#2b2b2b" font-size="21.00">9</text>
<text transform="translate(837.50 1185.71) rotate(90) scale(0.937 1)" fill="#2b2b2b" font-size="21.00">0.5Br</text>
<text transform="translate(863.50 1218.02) rotate(90) scale(0.937 1)" fill="#2b2b2b" font-size="21.00">2</text>
<text transform="translate(863.50 1244.70) rotate(90) scale(0.937 1)" fill="#2e2a9c" font-size="21.00">JMRK</text>
<rect x="896.75" y="555.65" width="72.00" height="731.10" fill="#83cfe3" stroke="#000" stroke-width="3.50"/>
<line x1="882.70" y1="609.00" x2="882.70" y2="1234.00" stroke="#0a0a0a" stroke-width="1.60" stroke-dasharray="8.4 8.4"/>
<line x1="980.20" y1="609.00" x2="980.20" y2="1234.00" stroke="#0a0a0a" stroke-width="1.60" stroke-dasharray="8.4 8.4"/>
<path d="M894.20 595.50L882.70 606.50L894.20 617.50" stroke="#0a0a0a" stroke-width="2.00" fill="none" />
<path d="M894.20 852.80L882.70 863.80L894.20 874.80" stroke="#0a0a0a" stroke-width="2.00" fill="none" />
<path d="M894.20 972.50L882.70 983.50L894.20 994.50" stroke="#0a0a0a" stroke-width="2.00" fill="none" />
<path d="M894.20 1225.60L882.70 1236.60L894.20 1247.60" stroke="#0a0a0a" stroke-width="2.00" fill="none" />
<path d="M969.70 595.50L980.20 606.50L969.70 617.50" stroke="#0a0a0a" stroke-width="2.00" fill="none" />
<path d="M969.70 714.30L980.20 725.30L969.70 736.30" stroke="#0a0a0a" stroke-width="2.00" fill="none" />
<path d="M969.70 852.80L980.20 863.80L969.70 874.80" stroke="#0a0a0a" stroke-width="2.00" fill="none" />
<path d="M969.70 972.50L980.20 983.50L969.70 994.50" stroke="#0a0a0a" stroke-width="2.00" fill="none" />
<path d="M969.70 1145.00L980.20 1156.00L969.70 1167.00" stroke="#0a0a0a" stroke-width="2.00" fill="none" />
<path d="M969.70 1225.60L980.20 1236.60L969.70 1247.60" stroke="#0a0a0a" stroke-width="2.00" fill="none" />
<line x1="932.40" y1="606.50" x2="932.40" y2="1236.60" stroke="#0f3646" stroke-width="1.60"/>
<line x1="897.50" y1="606.50" x2="968.00" y2="606.50" stroke="#0f3646" stroke-width="1.60"/>
<path d="M907.80 595.50L897.30 606.50L907.80 617.50" stroke="#0f3646" stroke-width="1.70" fill="none" />
<path d="M957.50 595.50L968.00 606.50L957.50 617.50" stroke="#0f3646" stroke-width="1.70" fill="none" />
<line x1="897.50" y1="863.80" x2="968.00" y2="863.80" stroke="#0f3646" stroke-width="1.60"/>
<path d="M907.80 852.80L897.30 863.80L907.80 874.80" stroke="#0f3646" stroke-width="1.70" fill="none" />
<path d="M957.50 852.80L968.00 863.80L957.50 874.80" stroke="#0f3646" stroke-width="1.70" fill="none" />
<line x1="897.50" y1="983.50" x2="968.00" y2="983.50" stroke="#0f3646" stroke-width="1.60"/>
<path d="M907.80 972.50L897.30 983.50L907.80 994.50" stroke="#0f3646" stroke-width="1.70" fill="none" />
<path d="M957.50 972.50L968.00 983.50L957.50 994.50" stroke="#0f3646" stroke-width="1.70" fill="none" />
<line x1="897.50" y1="1236.60" x2="968.00" y2="1236.60" stroke="#0f3646" stroke-width="1.60"/>
<path d="M907.80 1225.60L897.30 1236.60L907.80 1247.60" stroke="#0f3646" stroke-width="1.70" fill="none" />
<path d="M957.50 1225.60L968.00 1236.60L957.50 1247.60" stroke="#0f3646" stroke-width="1.70" fill="none" />
<line x1="932.40" y1="725.30" x2="968.00" y2="725.30" stroke="#0f3646" stroke-width="1.60"/>
<path d="M957.50 714.30L968.00 725.30L957.50 736.30" stroke="#0f3646" stroke-width="1.70" fill="none" />
<line x1="932.40" y1="1156.00" x2="968.00" y2="1156.00" stroke="#0f3646" stroke-width="1.60"/>
<path d="M957.50 1145.00L968.00 1156.00L957.50 1167.00" stroke="#0f3646" stroke-width="1.70" fill="none" />
<circle cx="932.40" cy="606.50" r="6.00" fill="#000"/>
<circle cx="932.40" cy="725.30" r="6.00" fill="#000"/>
<circle cx="932.40" cy="863.80" r="6.00" fill="#000"/>
<circle cx="932.40" cy="983.50" r="6.00" fill="#000"/>
<circle cx="932.40" cy="1156.00" r="6.00" fill="#000"/>
<circle cx="932.40" cy="1236.60" r="6.00" fill="#000"/>
<text transform="translate(983.50 579.52) rotate(90) scale(0.937 1)" fill="#2b2b2b" font-size="21.00">10</text>
<text transform="translate(1021.00 556.81) rotate(90) scale(0.937 1)" fill="#2b2b2b" font-size="21.00">0.3O</text>
<text transform="translate(984.00 698.52) rotate(90) scale(0.937 1)" fill="#2b2b2b" font-size="21.00">11</text>
<text transform="translate(1021.00 679.21) rotate(90) scale(0.937 1)" fill="#2b2b2b" font-size="21.00">0.3R</text>
<text transform="translate(984.00 835.52) rotate(90) scale(0.937 1)" fill="#2b2b2b" font-size="21.00">12</text>
<text transform="translate(1021.00 817.21) rotate(90) scale(0.937 1)" fill="#2b2b2b" font-size="21.00">0.3Y</text>
<text transform="translate(984.00 965.21) rotate(90) scale(0.937 1)" fill="#2b2b2b" font-size="21.00">5</text>
<text transform="translate(1021.00 937.71) rotate(90) scale(0.937 1)" fill="#2b2b2b" font-size="21.00">0.3B</text>
<text transform="translate(984.00 1138.96) rotate(90) scale(0.937 1)" fill="#2b2b2b" font-size="21.00">4</text>
<text transform="translate(1021.00 1113.21) rotate(90) scale(0.937 1)" fill="#2b2b2b" font-size="21.00">0.3L</text>
<text transform="translate(984.00 1218.26) rotate(90) scale(0.937 1)" fill="#2b2b2b" font-size="21.00">3</text>
<text transform="translate(1021.00 1191.21) rotate(90) scale(0.937 1)" fill="#2b2b2b" font-size="21.00">0.3L</text>
<text transform="translate(984.00 1241.70) rotate(90) scale(0.937 1)" fill="#2e2a9c" font-size="21.00">JMRK</text>
<text transform="translate(950.50 1294.70) rotate(90) scale(0.937 1)" fill="#2b2b2b" font-size="21.00">JOINT</text>
<text transform="translate(930.90 1294.02) rotate(90) scale(0.937 1)" fill="#2b2b2b" font-size="21.00">CONNECTOR</text>
<rect x="900.35" y="1295.85" width="24.30" height="104.80" fill="none" stroke="#222" stroke-width="1.7"/>
<text transform="translate(906.00 1299.40) rotate(90) scale(0.937 1)" fill="#2b2b2b" font-size="21.00">PHOTO 49</text>
<line x1="980.20" y1="725.30" x2="1224.00" y2="725.30" stroke="#0a0a0a" stroke-width="3.70"/>
<line x1="980.20" y1="863.80" x2="1078.60" y2="863.80" stroke="#0a0a0a" stroke-width="3.70"/>
<line x1="980.20" y1="983.50" x2="1078.60" y2="983.50" stroke="#0a0a0a" stroke-width="3.70"/>
<line x1="980.20" y1="1156.00" x2="1224.00" y2="1156.00" stroke="#0a0a0a" stroke-width="3.70"/>
<path d="M980.2 606.5L1078.5 606.5L1078.5 362.3L968 362.3" stroke="#0a0a0a" stroke-width="3.20" fill="none" stroke-linejoin="miter"/>
<path d="M980.2 1236.6L1078.5 1236.6L1078.5 1554L968 1554" stroke="#0a0a0a" stroke-width="3.20" fill="none" stroke-linejoin="miter"/>
<path d="M912.50 362.30L968.30 334.30L968.30 390.30Z" stroke="#0a0a0a" stroke-width="3.40" fill="#fff" stroke-linejoin="miter"/>
<path d="M913.60 1554.00L968.50 1526.00L968.50 1582.00Z" stroke="#0a0a0a" stroke-width="3.40" fill="#fff" stroke-linejoin="miter"/>
<text transform="translate(942.50 355.14) rotate(90) scale(0.937 1)" fill="#2b2b2b" font-size="21.00">B</text>
<text transform="translate(942.50 1547.43) rotate(90) scale(0.937 1)" fill="#2b2b2b" font-size="21.00">A</text>
<text transform="translate(891.80 328.56) rotate(90) scale(0.937 1)" fill="#2b2b2b" font-size="21.00">To Data</text>
<text transform="translate(871.00 296.88) rotate(90) scale(0.937 1)" fill="#2b2b2b" font-size="21.00">Link Connector</text>
<text transform="translate(851.00 317.77) rotate(90) scale(0.937 1)" fill="#2e2a9c" font-size="21.00">(SD200-1)</text>
<text transform="translate(891.80 1520.06) rotate(90) scale(0.937 1)" fill="#2b2b2b" font-size="21.00">To Data</text>
<text transform="translate(871.00 1488.38) rotate(90) scale(0.937 1)" fill="#2b2b2b" font-size="21.00">Link Connector</text>
<text transform="translate(851.00 1509.27) rotate(90) scale(0.937 1)" fill="#2e2a9c" font-size="21.00">(SD200-1)</text>
<rect x="1091.80" y="828.80" width="90.90" height="188.90" fill="#83cfe3" stroke="#000" stroke-width="3.60"/>
<path d="M1089.10 854.00L1078.60 865.00L1089.10 876.00" stroke="#0a0a0a" stroke-width="2.00" fill="none" />
<path d="M1089.10 971.60L1078.60 982.60L1089.10 993.60" stroke="#0a0a0a" stroke-width="2.00" fill="none" />
<line x1="1078.60" y1="867.50" x2="1078.60" y2="980.50" stroke="#0a0a0a" stroke-width="1.60" stroke-dasharray="8.4 8.4"/>
<path d="M1092 864.3L1127.4 864.3L1127.4 903.6L1142 907.8L1115 915.3L1142 921.3L1115 926.5L1142 933.3L1115 940.8L1142 945.6L1130 951.3L1127.4 951.3L1127.4 983L1092 983" stroke="#0f3646" stroke-width="1.60" fill="none" stroke-linejoin="miter"/>
<path d="M1101.50 853.80L1092.00 864.30L1101.50 874.80" stroke="#0f3646" stroke-width="1.70" fill="none" />
<path d="M1101.50 972.50L1092.00 983.00L1101.50 993.50" stroke="#0f3646" stroke-width="1.70" fill="none" />
<ellipse cx="1130.4" cy="928" rx="22.3" ry="42.6" fill="none" stroke="#0f3646" stroke-width="1.6"/>
<text transform="translate(1158.50 863.38) rotate(90) scale(0.937 1)" fill="#0f3646" font-size="21.00">Resister 122W</text>
<text transform="translate(1061.00 845.02) rotate(90) scale(0.937 1)" fill="#2b2b2b" font-size="21.00">2</text>
<text transform="translate(1061.00 964.52) rotate(90) scale(0.937 1)" fill="#2b2b2b" font-size="21.00">1</text>
<text transform="translate(1060.00 989.88) rotate(90) scale(0.937 1)" fill="#2e2a9c" font-size="21.00">M19</text>
<text transform="translate(1170.00 1024.02) rotate(90) scale(0.937 1)" fill="#2b2b2b" font-size="21.00">CAN</text>
<text transform="translate(1150.40 1023.38) rotate(90) scale(0.937 1)" fill="#2b2b2b" font-size="21.00">RESISTOR</text>
<rect x="1119.35" y="1025.85" width="25.30" height="105.80" fill="none" stroke="#222" stroke-width="1.7"/>
<text transform="translate(1125.50 1029.83) rotate(90) scale(0.937 1)" fill="#2b2b2b" font-size="21.00">PHOTO 40</text>
<rect x="1236.25" y="679.95" width="93.50" height="522.80" fill="#83cfe3" stroke="#000" stroke-width="3.50" stroke-dasharray="8.3 8.3"/>
<path d="M1267.3 691.9L1277.2 704.8L1277.2 924L1286 937L1277.2 950L1277.2 1175L1267.3 1187" stroke="#0f3646" stroke-width="1.60" fill="none" stroke-linejoin="miter"/>
<text transform="translate(1249.50 707.38) rotate(90) scale(0.937 1)" fill="#0f3646" font-size="21.00">Low</text>
<text transform="translate(1249.50 1133.38) rotate(90) scale(0.937 1)" fill="#0f3646" font-size="21.00">High</text>
<text transform="translate(1293.50 906.62) rotate(90) scale(0.937 1)" fill="#0f3646" font-size="21.00">C-CAN</text>
<path d="M1236.00 714.30L1224.00 725.30L1236.00 736.30" stroke="#0a0a0a" stroke-width="2.00" fill="none" />
<path d="M1236.00 1145.00L1224.00 1156.00L1236.00 1167.00" stroke="#0a0a0a" stroke-width="2.00" fill="none" />
<line x1="1225.50" y1="728.00" x2="1225.50" y2="1154.00" stroke="#0a0a0a" stroke-width="1.60" stroke-dasharray="8.4 8.4"/>
<text transform="translate(1206.50 708.26) rotate(90) scale(0.937 1)" fill="#2b2b2b" font-size="21.00">3</text>
<text transform="translate(1205.50 1137.02) rotate(90) scale(0.937 1)" fill="#2b2b2b" font-size="21.00">2</text>
<text transform="translate(1205.50 1164.38) rotate(90) scale(0.937 1)" fill="#2e2a9c" font-size="21.00">M04-B</text>
<text transform="translate(1314.50 1208.18) rotate(90) scale(0.937 1)" fill="#2b2b2b" font-size="21.00">INSTRUMENT</text>
<text transform="translate(1294.90 1209.02) rotate(90) scale(0.937 1)" fill="#2b2b2b" font-size="21.00">CLUSTER</text>
<rect x="1263.85" y="1210.85" width="25.80" height="106.30" fill="none" stroke="#222" stroke-width="1.7"/>
<text transform="translate(1270.25 1215.15) rotate(90) scale(0.937 1)" fill="#2b2b2b" font-size="21.00">PHOTO 39</text>
</svg>
</body></html>
